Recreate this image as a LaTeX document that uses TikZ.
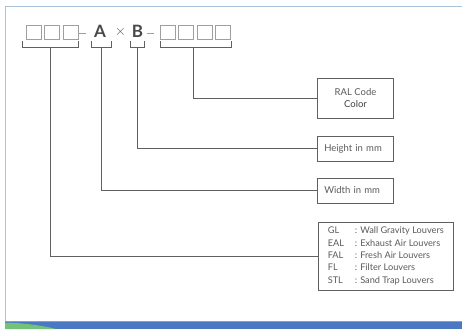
\documentclass[tikz,border=0pt]{standalone}
\usepackage{fontspec}
\setmainfont{Lato}
\usetikzlibrary{positioning}
\definecolor{framecol}{HTML}{A9C3DB}
\definecolor{textcol}{HTML}{5A5A5A}
\definecolor{linecol}{HTML}{606060}
\definecolor{bandblue}{HTML}{4A78C2}
\definecolor{bandgreen}{HTML}{72C27A}

\begin{document}
\begin{tikzpicture}[
    x=1pt, y=-1pt,
    sq/.style={draw=gray!75, line width=0.7pt, minimum width=15pt, minimum height=14pt, inner sep=0pt},
    glyph/.style={font=\fontsize{17}{17}\selectfont\bfseries, text=textcol!80!black, inner sep=0pt},
    dashmark/.style={draw=gray!75, line width=0.8pt},
    infobox/.style={draw=linecol, line width=0.6pt, minimum width=76pt, minimum height=25pt, font=\fontsize{9.5}{11.5}\selectfont, text=textcol},
    lead/.style={draw=linecol, line width=0.6pt}
]
\useasboundingbox (0,0) rectangle (462,329);

% Frame and band
\draw[framecol, line width=0.8pt] (5,321) -- (5,6) -- (462,6);
\fill[bandblue] (5,321) rectangle (462,329);
\fill[bandblue!70!white] (5,321) rectangle (462,322);
\fill[bandgreen] (5,322.5) .. controls (25,323) and (45,326) .. (56,329) -- (5,329) -- cycle;

% Code
\node[sq] (s1) at (34,32) {};
\node[sq] (s2) at (52,32) {};
\node[sq] (s3) at (70.5,32) {};
\draw[dashmark] (78.5,33) -- (86,33);
\node[glyph] (a) at (100,31) {A};
\node[inner sep=0pt, font=\fontsize{15}{15}\selectfont, text=textcol] (x) at (120.5,32) {$\times$};
\node[glyph] (b) at (137.5,31) {B};
\draw[dashmark] (146.5,33) -- (154,33);
\node[sq] (s4) at (168,32) {};
\node[sq] (s5) at (186,32) {};
\node[sq] (s6) at (205,32) {};
\node[sq] (s7) at (223,32) {};

% Brackets
\draw[lead] (22,41) -- (22,47) -- (78,47) -- (78,41);
\draw[lead] (91,41) -- (91,47) -- (111,47) -- (111,41);
\draw[lead] (130,41) -- (130,47) -- (144,47) -- (144,41);
\draw[lead] (160,41) -- (160,47) -- (231,47) -- (231,41);
\coordinate (type) at (50,47);
\coordinate (width) at (101,47);
\coordinate (height) at (137,47);
\coordinate (ral) at (193,47);

% Boxes
\node[infobox, minimum height=40pt, align=center] (ralbox) at (355.5,98) {RAL Code\\\textcolor{textcol!70!black}{Color}};
\node[infobox, anchor=west, text width=62pt, align=left] (hbox) at (317,148.5) {Height in mm};
\node[infobox, anchor=west, text width=62pt, align=left] (wbox) at (317,190.5) {Width in mm};
\node[draw=linecol, line width=0.6pt, anchor=north west, minimum width=135pt, minimum height=67pt, inner sep=3pt,
      text=textcol, font=\fontsize{9.2}{12.3}\selectfont] (tbox) at (318,222)
  {\begin{tabular}{@{}p{27pt}@{}l@{}}
    GL & : Wall Gravity Louvers\\
    EAL & : Exhaust Air Louvers\\
    FAL & : Fresh Air Louvers\\
    FL & : Filter Louvers\\
    STL & : Sand Trap Louvers
  \end{tabular}};

% Leaders
\draw[lead] (ral) |- (ralbox.west);
\draw[lead] (height) |- (hbox.west);
\draw[lead] (width) |- (wbox.west);
\draw[lead] (type) |- (tbox.west);

\end{tikzpicture}
\end{document}
